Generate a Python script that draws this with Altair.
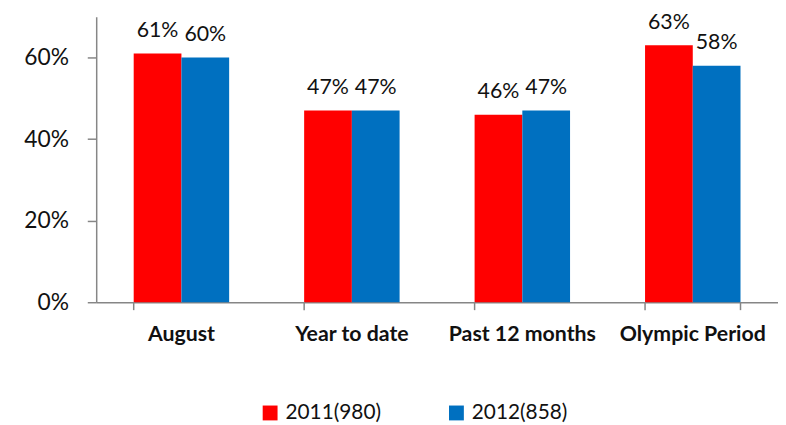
import altair as alt
import pandas as pd

categories = ["August", "Year to date", "Past 12 months", "Olympic Period"]
series = ["2011(980)", "2012(858)"]
values_2011 = [0.61, 0.47, 0.46, 0.63]
values_2012 = [0.60, 0.47, 0.47, 0.58]
colors = ["#FF0000", "#0070C0"]
y_ticks = [0, 0.2, 0.4, 0.6]

rows = []
for c, a, b in zip(categories, values_2011, values_2012):
    rows.append({"cat": c, "series": series[0], "v": a})
    rows.append({"cat": c, "series": series[1], "v": b})
df = pd.DataFrame(rows)

FONT = "Lato"
TXT = "#111111"
AX = "#868686"

x_enc = alt.X("cat:N", sort=categories,
              scale=alt.Scale(paddingInner=0.44, paddingOuter=0.22),
              axis=alt.Axis(title=None, labelAngle=0, ticks=False, domainColor=AX,
                            domainWidth=1.5, labelFont=FONT, labelFontSize=21.5,
                            labelFontWeight="bold", labelColor=TXT, labelPadding=22))
y_enc = alt.Y("v:Q", scale=alt.Scale(domain=[0, 0.7], nice=False),
              axis=alt.Axis(title=None, values=y_ticks, format=".0%", grid=False,
                            domainColor=AX, domainWidth=1.5, tickColor=AX, tickSize=9,
                            tickWidth=1.5, labelFont=FONT, labelFontSize=23,
                            labelColor=TXT, labelPadding=19))

base = alt.Chart(df)
bars = base.mark_bar().encode(
    x=x_enc,
    y=y_enc,
    xOffset=alt.XOffset("series:N", sort=series, scale=alt.Scale(paddingInner=0, paddingOuter=0)),
    color=alt.Color("series:N", sort=series,
                    scale=alt.Scale(domain=series, range=colors),
                    legend=alt.Legend(title=None, orient="none", direction="horizontal",
                                      legendX=165, legendY=389, symbolType="square",
                                      symbolSize=225, symbolStrokeWidth=0,
                                      labelFont=FONT, labelFontSize=21, labelColor=TXT,
                                      columnPadding=65, labelOffset=5, padding=0)),
)
labels = base.mark_text(baseline="alphabetic", dy=-17, font=FONT, fontSize=21.5, color=TXT).encode(
    x=alt.X("cat:N", sort=categories),
    y="v:Q",
    xOffset=alt.XOffset("series:N", sort=series),
    text=alt.Text("v:Q", format=".0%"),
)
ticks = alt.Chart(pd.DataFrame({"cat": categories})).mark_rule(color=AX, strokeWidth=1.5).encode(
    x=alt.X("cat:N", sort=categories, bandPosition=0),
    y=alt.value(288),
    y2=alt.value(296),
)
end_tick = alt.Chart(pd.DataFrame({"cat": categories[-1:]})).mark_rule(color=AX, strokeWidth=1.5).encode(
    x=alt.X("cat:N", sort=categories, bandPosition=1),
    y=alt.value(288),
    y2=alt.value(296),
)

chart = alt.layer(bars, labels, ticks, end_tick).properties(
    width=688, height=288,
    autosize=alt.AutoSizeParams(type="none"),
    padding={"left": 89, "top": 7, "right": 0, "bottom": 122},
).configure_view(stroke=None)

chart.save("out.html", embed_options={"renderer": "svg", "actions": False})
